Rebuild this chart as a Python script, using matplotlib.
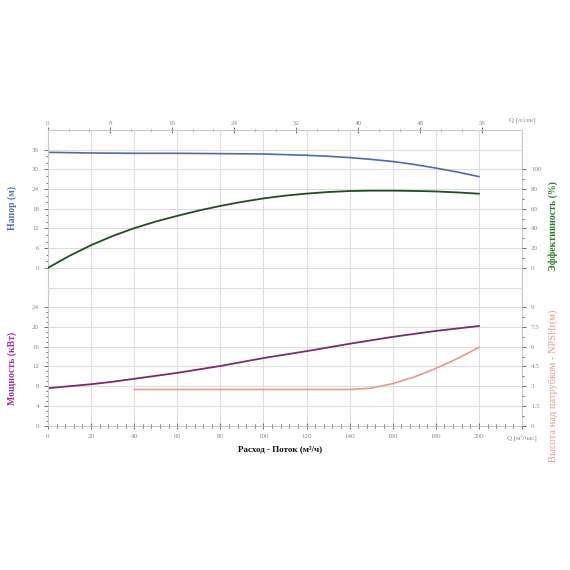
import matplotlib
matplotlib.use('Agg')
import matplotlib.pyplot as plt
from matplotlib.ticker import MultipleLocator, FixedLocator

plt.rcParams['font.family'] = ['Liberation Serif', 'DejaVu Serif']

# pump curve readings, flow in m3/h
flow = [0, 10, 20, 30, 40, 50, 60, 70, 80, 90, 100,
        110, 120, 130, 140, 150, 160, 170, 180, 190, 200]
head = [35.2, 35.1, 35.0, 34.95, 34.9, 34.9, 34.9, 34.85, 34.8, 34.75, 34.7,
        34.5, 34.3, 34.0, 33.6, 33.05, 32.4, 31.5, 30.4, 29.2, 27.8]
efficiency = [0, 12.2, 23.0, 32.3, 40.3, 47.0, 52.8, 58.2, 62.9, 67.0, 70.5,
              73.3, 75.4, 77.0, 78.0, 78.4, 78.4, 78.1, 77.6, 76.6, 75.3]
power = [7.6, 8.0, 8.4, 8.9, 9.5, 10.1, 10.7, 11.4, 12.1, 12.9, 13.7,
         14.4, 15.1, 15.85, 16.6, 17.3, 18.0, 18.6, 19.2, 19.7, 20.2]
npsh_flow = [40, 50, 60, 70, 80, 90, 100, 110, 120, 130, 140,
             150, 160, 170, 180, 190, 200]
npsh = [2.75, 2.75, 2.75, 2.75, 2.75, 2.75, 2.75, 2.75, 2.75, 2.75, 2.75,
        2.85, 3.2, 3.7, 4.35, 5.1, 5.95]

flow_ticks = [0, 20, 40, 60, 80, 100, 120, 140, 160, 180, 200, 220]
flow_labels = ['0', '20', '40', '60', '80', '100', '120', '140', '160', '180', '200', 'Q [м³/час]']
ls_ticks = [0, 8, 16, 24, 32, 40, 48, 56]
head_ticks = [0, 6, 12, 18, 24, 30, 36]
eff_ticks = [0, 20, 40, 60, 80, 100]
power_ticks = [0, 4, 8, 12, 16, 20, 24]
npsh_ticks = [0, 1.5, 3, 4.5, 6, 7.5, 9]
npsh_labels = ['0', '1.5', '3', '4.5', '6', '7.5', '9']

GRID = '#dddddd'
TICKC = '#555555'
LABC = '#888888'
FS = 5

fig = plt.figure(figsize=(5.7, 5.7), dpi=100)
ax_top = fig.add_axes([0.0842, 0.4956, 0.8316, 0.2763])
ax_bot = fig.add_axes([0.0842, 0.2532, 0.8316, 0.2424])


def style_axis(ax):
    ax.set_xlim(0, 220)
    ax.set_xticks(flow_ticks)
    ax.grid(True, color=GRID, linewidth=0.8)
    ax.set_axisbelow(True)
    for s in ax.spines.values():
        s.set_color('#c8c8c8')
        s.set_linewidth(0.8)
    ax.tick_params(which='both', colors=TICKC, labelcolor=LABC, labelsize=FS, width=0.6)
    ax.tick_params(which='major', length=3)
    ax.tick_params(which='minor', length=1.5)


# top panel: head + efficiency
style_axis(ax_top)
ax_top.set_ylim(-6, 42)
ax_top.set_yticks(head_ticks)
ax_top.yaxis.set_minor_locator(FixedLocator([v for v in range(0, 37, 2) if v % 6]))
ax_top.tick_params(axis='x', which='both', bottom=False, labelbottom=False)
ax_top.spines['bottom'].set_visible(False)
ax_top.spines['top'].set_visible(False)
ax_top.plot(flow, head, color='#4a6bb0', lw=1.2)

sec = ax_top.secondary_xaxis('top', functions=(lambda q: q / 3.6, lambda l: l * 3.6))
sec.set_xticks(ls_ticks)
sec.xaxis.set_minor_locator(FixedLocator([i * 8 / 3 for i in range(22) if i % 3]))
sec.spines['top'].set_color('#c8c8c8')
sec.spines['top'].set_linewidth(0.8)
sec.tick_params(which='both', direction='inout', colors=TICKC, labelcolor=LABC,
                labelsize=FS, width=0.6, pad=1)
sec.tick_params(which='major', length=4)
sec.tick_params(which='minor', length=2)
ax_top.text(1.0, 1.045, 'Q [л/сек]', transform=ax_top.transAxes, ha='center',
            va='bottom', fontsize=FS, color=LABC)

ax_eff = ax_top.twinx()
ax_eff.set_ylim(-20, 140)
ax_eff.set_yticks(eff_ticks)
ax_eff.yaxis.set_minor_locator(FixedLocator([10, 30, 50, 70, 90]))
for s in ax_eff.spines.values():
    s.set_visible(False)
ax_eff.tick_params(which='both', colors=TICKC, labelcolor=LABC, labelsize=FS, width=0.6)
ax_eff.tick_params(which='major', length=3)
ax_eff.tick_params(which='minor', length=1.5)
ax_eff.plot(flow, efficiency, color='#1f4f1f', lw=1.3)

# bottom panel: power + NPSH
style_axis(ax_bot)
ax_bot.spines['top'].set_color(GRID)
ax_bot.set_ylim(0, 28)
ax_bot.set_yticks(power_ticks)
ax_bot.yaxis.set_minor_locator(FixedLocator([v for v in range(0, 25) if v % 4]))
ax_bot.xaxis.set_minor_locator(MultipleLocator(4))
ax_bot.set_xticklabels(flow_labels)
ax_bot.tick_params(axis='x', which='both', direction='inout', pad=4)
ax_bot.tick_params(axis='x', which='major', length=4)
ax_bot.tick_params(axis='x', which='minor', length=2.5)
ax_bot.plot(flow, power, color='#7a2a6e', lw=1.3)

ax_npsh = ax_bot.twinx()
ax_npsh.set_ylim(0, 10.5)
ax_npsh.set_yticks(npsh_ticks)
ax_npsh.set_yticklabels(npsh_labels)
ax_npsh.yaxis.set_minor_locator(FixedLocator([0.75, 2.25, 3.75, 5.25, 6.75, 8.25]))
for s in ax_npsh.spines.values():
    s.set_visible(False)
ax_npsh.tick_params(which='both', colors=TICKC, labelcolor=LABC, labelsize=FS, width=0.6)
ax_npsh.tick_params(which='major', length=3)
ax_npsh.tick_params(which='minor', length=1.5)
ax_npsh.plot(npsh_flow, npsh, color='#e49a8e', lw=1.2)

# axis titles
fig.text(0.021, 0.635, 'Напор (м)', rotation=90, ha='center', va='center',
         fontsize=7, fontweight='bold', color='#4f6fb3')
fig.text(0.021, 0.353, 'Мощность (кВт)', rotation=90, ha='center', va='center',
         fontsize=7, fontweight='bold', color='#a0309a')
fig.text(0.970, 0.604, 'Эффективность (%)', rotation=90, ha='center', va='center',
         fontsize=7, fontweight='bold', color='#2a7a2a')
fig.text(0.970, 0.323, 'Высота над патрубком - NPSHr(м)', rotation=90, ha='center',
         va='center', fontsize=7.5, color='#e39a8c')
fig.text(0.491, 0.212, 'Расход - Поток (м³/ч)', ha='center', va='center',
         fontsize=6.5, fontweight='bold', color='#111111')

fig.savefig('out.png', dpi=100)
